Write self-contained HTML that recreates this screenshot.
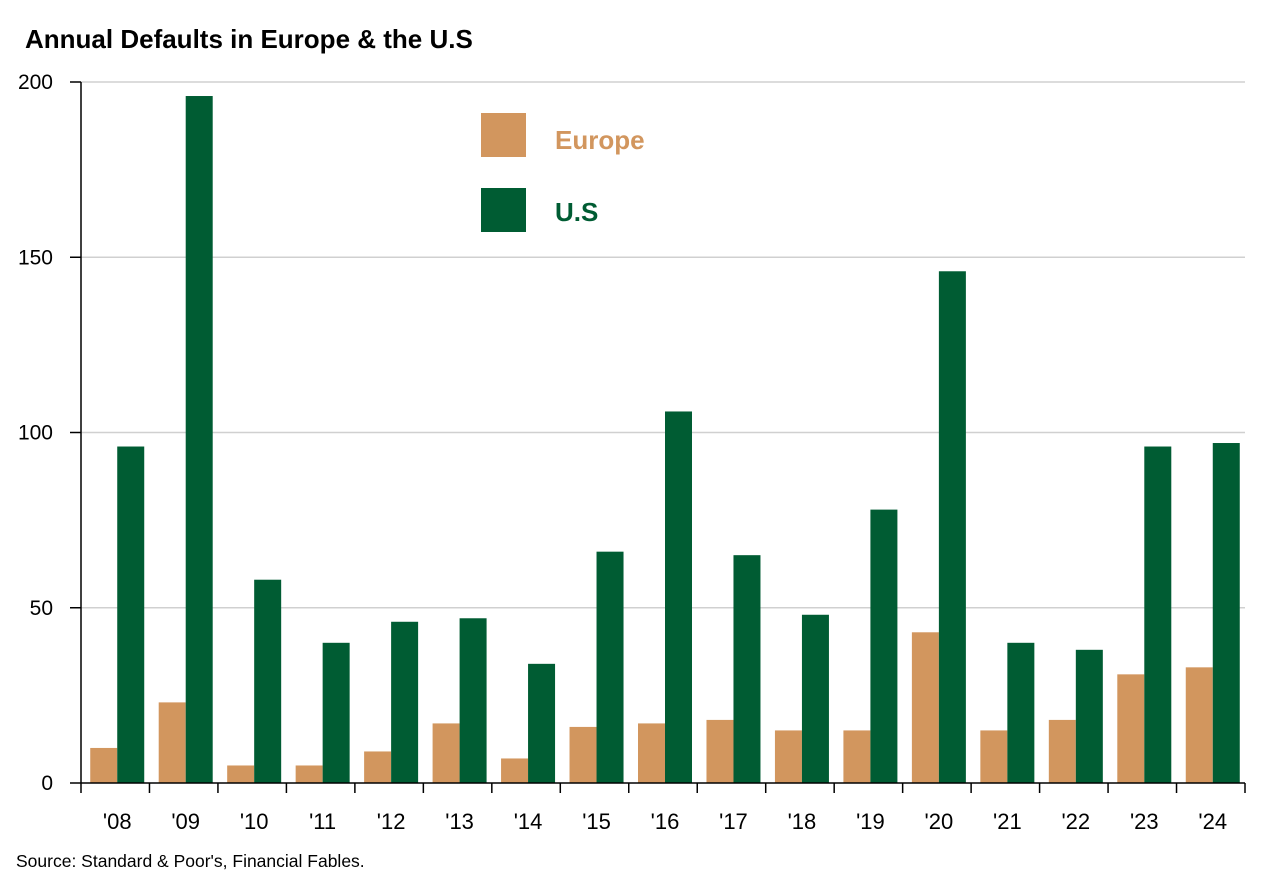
<!DOCTYPE html>
<html><head><meta charset="utf-8"><style>
body{margin:0;background:#fff;width:1270px;height:883px;overflow:hidden;font-family:"Liberation Sans",sans-serif}
</style></head><body>
<svg id="chart" width="1270" height="883" xmlns="http://www.w3.org/2000/svg">
<text x="25" y="48" font-size="26" font-weight="bold" fill="#000">Annual Defaults in Europe &amp; the U.S</text>
<text x="16" y="867" font-size="17.5" fill="#000">Source: Standard &amp; Poor's, Financial Fables.</text>
<g id="grid"></g><g id="bars"></g><g id="axes"></g>
<g>
<rect x="481" y="113" width="45" height="44" fill="#D2965E"/>
<text x="555" y="149" font-size="26" font-weight="bold" fill="#D2965E">Europe</text>
<rect x="481" y="188" width="45" height="44" fill="#005C33"/>
<text x="555" y="221" font-size="26" font-weight="bold" fill="#005C33">U.S</text>
</g>
</svg>
<script>
const categories=["'08","'09","'10","'11","'12","'13","'14","'15","'16","'17","'18","'19","'20","'21","'22","'23","'24"];
const europe=[10,23,5,5,9,17,7,16,17,18,15,15,43,15,18,31,33];
const us=[96,196,58,40,46,47,34,66,106,65,48,78,146,40,38,96,97];
const yTicks=[0,50,100,150,200];
const NS="http://www.w3.org/2000/svg";
const L=81,R=1245,T=82,B=783,yMax=200;
const y=v=>B-(v/yMax)*(B-T);
const step=(R-L)/categories.length;
const bw=27;
function mk(tag,attrs,parent){const e=document.createElementNS(NS,tag);for(const k in attrs)e.setAttribute(k,attrs[k]);document.getElementById(parent).appendChild(e);return e;}
yTicks.forEach(t=>{
  if(t>0){const g=mk('line',{x1:L,x2:R,y1:y(t),y2:y(t),stroke:'#d0d0d0','stroke-width':1.5},'grid');
  
  }
  const tk=mk('line',{x1:L-11,x2:L,y1:y(t),y2:y(t),stroke:'#000','stroke-width':1.5},'axes');
  
  
  const tx=mk('text',{x:L-28,y:y(t)+7,'font-size':21,'text-anchor':'end',fill:'#000'},'axes');
  tx.textContent=t;
  
  
});
categories.forEach((c,i)=>{
  const cx=L+step*(i+0.5)+2;
  const e=mk('rect',{x:cx-bw,y:y(europe[i]),width:bw,height:B-y(europe[i]),fill:'#D2965E'},'bars');
  
  
  const u=mk('rect',{x:cx,y:y(us[i]),width:bw,height:B-y(us[i]),fill:'#005C33'},'bars');
  
  
  const tx=mk('text',{x:cx,y:B+46,'font-size':22,'text-anchor':'middle',fill:'#000'},'axes');
  tx.textContent=c;
  
  
});
for(let i=0;i<=categories.length;i++){
  const x=L+step*i;
  const tk=mk('line',{x1:x,x2:x,y1:B,y2:B+10,stroke:'#000','stroke-width':1.5},'axes');
  
  
}
const ya=mk('line',{x1:L,x2:L,y1:T,y2:B,stroke:'#000','stroke-width':1.5},'axes');


const xa=mk('line',{x1:L,x2:R,y1:B,y2:B,stroke:'#000','stroke-width':1.5},'axes');


</script>
</body></html>
